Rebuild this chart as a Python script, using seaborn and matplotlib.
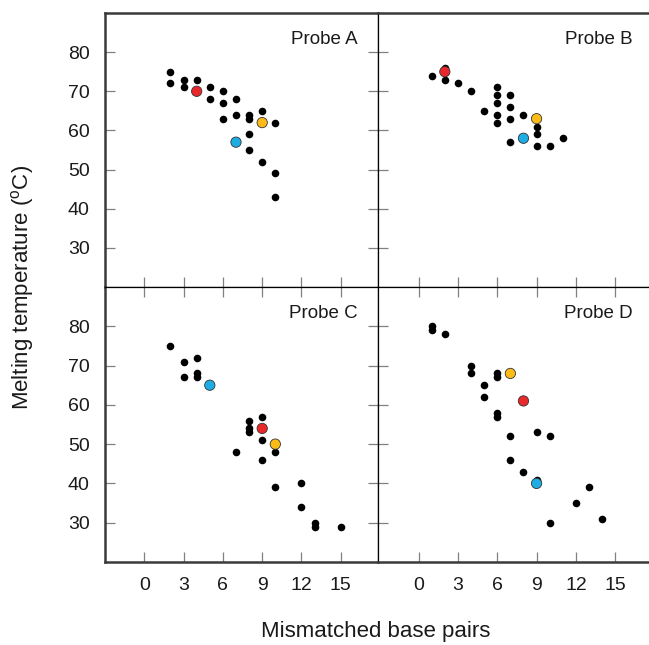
import matplotlib.pyplot as plt
import pandas as pd
import seaborn as sns

probes = ['Probe A', 'Probe B', 'Probe C', 'Probe D']

# black dots, one pair of lists per probe
a_x = [2, 2, 3, 3, 4, 5, 5, 6, 6, 6, 7, 7, 8, 8, 8, 8, 9, 9, 10, 10, 10]
a_y = [75, 72, 73, 71, 73, 71, 68, 70, 67, 63, 68, 64, 64, 63, 59, 55, 65, 52, 62, 49, 43]
b_x = [1, 2, 2, 3, 4, 5, 6, 6, 6, 6, 6, 7, 7, 7, 7, 8, 9, 9, 9, 10, 11]
b_y = [74, 76, 73, 72, 70, 65, 71, 69, 67, 64, 62, 69, 66, 63, 57, 64, 61, 59, 56, 56, 58]
c_x = [2, 3, 3, 4, 4, 4, 7, 8, 8, 8, 9, 9, 9, 10, 10, 12, 12, 13, 13, 15]
c_y = [75, 71, 67, 72, 68, 67, 48, 56, 54, 53, 57, 51, 46, 48, 39, 40, 34, 30, 29, 29]
d_x = [1, 1, 2, 4, 4, 5, 5, 6, 6, 6, 6, 7, 7, 8, 9, 9, 10, 10, 12, 13, 14]
d_y = [80, 79, 78, 70, 68, 65, 62, 68, 67, 58, 57, 52, 46, 43, 53, 41, 52, 30, 35, 39, 31]

# highlighted dots (A, B, C, D)
red_x = [4, 2, 9, 8]
red_y = [70, 75, 54, 61]
yellow_x = [9, 9, 10, 7]
yellow_y = [62, 63, 50, 68]
blue_x = [7, 8, 5, 9]
blue_y = [57, 58, 65, 40]

x_ticks = [0, 3, 6, 9, 12, 15]
y_ticks = [30, 40, 50, 60, 70, 80]

sns.set_style('white')
plt.rcParams['font.family'] = ['Liberation Sans', 'DejaVu Sans']
plt.rcParams['mathtext.fontset'] = 'custom'
plt.rcParams['mathtext.rm'] = 'Liberation Sans'

rows = []
for p, xs, ys in zip(probes, [a_x, b_x, c_x, d_x], [a_y, b_y, c_y, d_y]):
    for x, y in zip(xs, ys):
        rows.append((p, x, y, 'other'))
for i, p in enumerate(probes):
    rows.append((p, red_x[i], red_y[i], 'red'))
    rows.append((p, yellow_x[i], yellow_y[i], 'yellow'))
    rows.append((p, blue_x[i], blue_y[i], 'blue'))
df = pd.DataFrame(rows, columns=['probe', 'mismatch', 'tm', 'group'])

palette = {'red': '#e8282b', 'yellow': '#fdbb17', 'blue': '#1dade4'}

W, H = 649, 645
fig = plt.figure(figsize=(W / 100, H / 100), dpi=100)

col_x = [(105, 273, (-3.0, 17.84)), (378, 271, (-3.1, 17.58))]
row_y = [(13, 274), (287, 275)]
text_x = [0.927, 0.941]

for k, p in enumerate(probes):
    r, c = divmod(k, 2)
    x0, w, xl = col_x[c]
    top, h = row_y[r]
    ax = fig.add_axes([x0 / W, 1 - (top + h) / H, w / W, h / H])

    sub = df[df['probe'] == p]
    sns.scatterplot(data=sub[sub['group'] == 'other'], x='mismatch', y='tm',
                    color='black', s=30, linewidth=0, ax=ax)
    sns.scatterplot(data=sub[sub['group'] != 'other'], x='mismatch', y='tm',
                    hue='group', palette=palette, s=55, edgecolor='#333333',
                    linewidth=0.6, legend=False, ax=ax)

    ax.set_xlim(*xl)
    ax.set_ylim(20, 90)
    ax.set_xticks(x_ticks)
    ax.set_yticks(y_ticks)
    ax.set_xlabel('')
    ax.set_ylabel('')
    ax.tick_params(axis='both', direction='in', length=7, width=0.9, color='#808080',
                   labelsize=14, pad=11, labelcolor='#1a1a1a',
                   top=(r == 1), bottom=True, left=True, right=(c == 0),
                   labelbottom=(r == 1), labelleft=(c == 0))

    for side, sp in ax.spines.items():
        sp.set_color('black')
        sp.set_linewidth(0.9)
    if c == 0:
        ax.spines['left'].set_color('#3a3a3a')
        ax.spines['left'].set_linewidth(1.8)
    else:
        ax.spines['right'].set_visible(False)
    if r == 0:
        ax.spines['top'].set_color('#3a3a3a')
        ax.spines['top'].set_linewidth(1.8)
    else:
        ax.spines['bottom'].set_color('#3a3a3a')
        ax.spines['bottom'].set_linewidth(1.8)

    ax.text(text_x[c], 0.905, p, transform=ax.transAxes, ha='right', va='center',
            fontsize=13.5, color='#1a1a1a')

fig.text(375.5 / W, 1 - 637 / H, 'Mismatched base pairs', ha='center', va='baseline',
         fontsize=16, color='#1a1a1a')
fig.text(23 / W, 1 - 287 / H, 'Melting temperature ($^{\\rm o}$C)', ha='center', va='center',
         rotation=90, fontsize=16, color='#1a1a1a')

fig.savefig('out.png', dpi=100)
